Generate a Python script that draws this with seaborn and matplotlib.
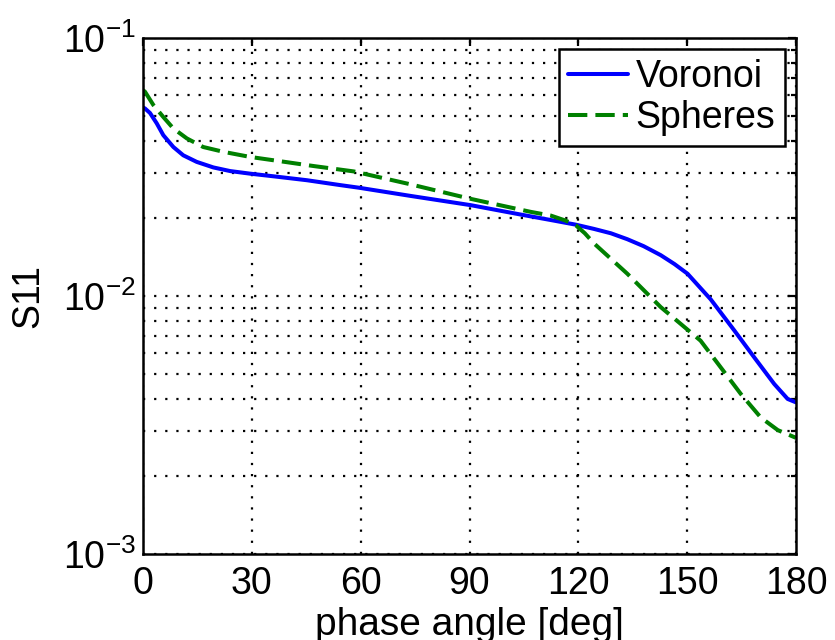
import numpy as np
import pandas as pd
import matplotlib
matplotlib.use("Agg")
import matplotlib.pyplot as plt
import seaborn as sns
from matplotlib.ticker import LogLocator, LogFormatterMathtext, NullFormatter

# ---- data ----
voronoi_x = [0, 0.55, 1.93, 3.78, 5.6, 8.37, 11.1, 14.8, 19.4, 24.0, 29.5, 36.0, 45.2, 54.4,
             59.4, 74.0, 90.3, 104.0, 112.4, 119.3, 124.3, 129.0, 133.5, 138.0, 142.7, 146.5,
             150.1, 156.5, 163.0, 168.5, 174.0, 177.7, 180]
voronoi_y = [0.0538, 0.0533, 0.0512, 0.0467, 0.0420, 0.0378, 0.0351, 0.0331, 0.0315, 0.0305,
             0.0298, 0.0291, 0.0281, 0.0269, 0.0263, 0.0244, 0.0225, 0.0207, 0.0197, 0.0189,
             0.0182, 0.0175, 0.0166, 0.0156, 0.0144, 0.0133, 0.0122, 0.0097, 0.00735, 0.00578,
             0.00456, 0.00399, 0.00387]
spheres_x = [0, 0.55, 2.85, 5.6, 8.37, 12.1, 16.6, 22.2, 29.5, 37.8, 47.0, 58.1, 73.7, 90.3,
             106.8, 112.4, 116.5, 119.3, 121.8, 124.3, 133.5, 142.7, 148.2, 153.7, 159.2,
             164.8, 170.3, 175.0, 180]
spheres_y = [0.0628, 0.0619, 0.0550, 0.0494, 0.0446, 0.0408, 0.0378, 0.0362, 0.0346, 0.0333,
             0.0319, 0.0304, 0.0271, 0.0238, 0.0212, 0.0205, 0.0196, 0.0188, 0.0175, 0.0160,
             0.0122, 0.00906, 0.0078, 0.00671, 0.0053, 0.00417, 0.00338, 0.00302, 0.00282]
series_names = ["Voronoi", "Spheres"]
x_ticks = [0, 30, 60, 90, 120, 150, 180]
x_label = "phase angle [deg]"
y_label = "S11"

df = pd.concat([
    pd.DataFrame({"phase": voronoi_x, "S11": voronoi_y, "series": series_names[0]}),
    pd.DataFrame({"phase": spheres_x, "S11": spheres_y, "series": series_names[1]}),
], ignore_index=True)

sns.set_style("white")
plt.rcParams["font.family"] = ["Liberation Sans", "DejaVu Sans"]
plt.rcParams["mathtext.fontset"] = "custom"
plt.rcParams["mathtext.rm"] = "Liberation Sans"
plt.rcParams["mathtext.it"] = "Liberation Sans"
plt.rcParams["mathtext.default"] = "regular"
plt.rcParams["text.color"] = "black"
plt.rcParams["axes.labelcolor"] = "black"
plt.rcParams["xtick.color"] = "black"
plt.rcParams["ytick.color"] = "black"

fig = plt.figure(figsize=(8.35, 6.4), dpi=100)
ax = fig.add_axes([143 / 835, 1 - 554 / 640, (796 - 143) / 835, (554 - 38) / 640])

sns.lineplot(data=df, x="phase", y="S11", hue="series", style="series",
             palette={"Voronoi": (0, 0, 1), "Spheres": (0, 0.5, 0)},
             dashes={"Voronoi": "", "Spheres": (4.8, 2.0)},
             linewidth=2.9, ax=ax, legend=True, sort=True)

ax.set_yscale("log")
ax.set_xlim(0, 180)
ax.set_ylim(1e-3, 1e-1)
ax.set_xticks(x_ticks)
ax.yaxis.set_major_locator(LogLocator(base=10, numticks=10))
ax.yaxis.set_major_formatter(LogFormatterMathtext())
ax.yaxis.set_minor_locator(LogLocator(base=10, subs=np.arange(2, 10), numticks=20))
ax.yaxis.set_minor_formatter(NullFormatter())

ax.grid(True, which="major", axis="both", color="black", linestyle=(0, (1, 4)), linewidth=1.6)
ax.grid(True, which="minor", axis="y", color="black", linestyle=(0, (1, 4)), linewidth=1.6)

for s in ax.spines.values():
    s.set_visible(True)
    s.set_color("black")
    s.set_linewidth(1.8)

ax.tick_params(which="both", direction="in", top=True, right=True, color="black",
               labelsize=27, width=1.6)
ax.tick_params(which="major", length=6)
ax.tick_params(axis="x", which="major", pad=9)
ax.tick_params(axis="y", which="major", pad=5)
ax.tick_params(which="minor", length=3.5)

ax.set_xlabel(x_label, fontsize=28, labelpad=3)
ax.set_ylabel(y_label, fontsize=27, labelpad=12)

leg = ax.legend(loc="upper right", fontsize=27, frameon=True, fancybox=False,
                handlelength=1.6, handletextpad=0.2, borderpad=0.25, labelspacing=0.15,
                borderaxespad=0.3)
leg.get_frame().set_edgecolor("black")
leg.get_frame().set_linewidth(1.8)
leg.get_frame().set_alpha(1)
for line in leg.get_lines():
    line.set_linewidth(2.9)

fig.savefig("out.png", dpi=100)
